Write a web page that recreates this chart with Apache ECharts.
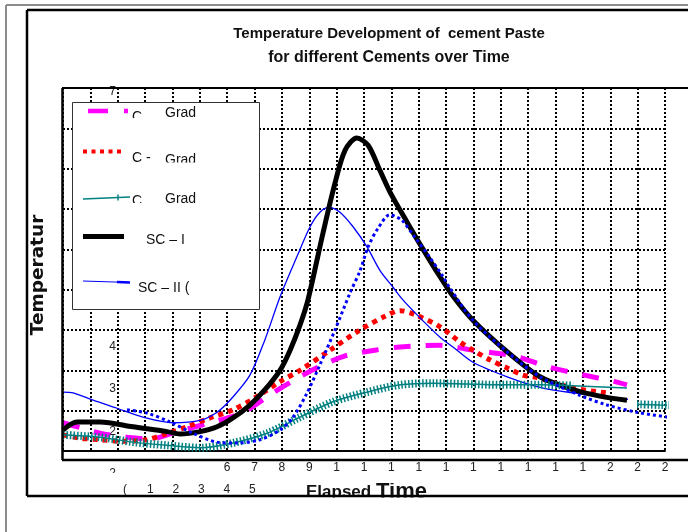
<!DOCTYPE html>
<html>
<head>
<meta charset="utf-8">
<title>Temperature Development of cement Paste</title>
<script src="https://cdn.jsdelivr.net/npm/echarts@6/dist/echarts.min.js"></script>
<style>
  html, body { margin: 0; padding: 0; background: #fff; }
  #chart { width: 688px; height: 532px; }
</style>
</head>
<body>
<div id="chart"></div>
<script>
// elapsed time (one unit per grid column) and temperature
const magentaTime = [0, 0.62, 1.35, 2.34, 3.18, 4.17, 5.37, 6.58, 7.67, 8.66, 9.39, 10.31, 11.40, 12.32, 13.78, 14.98, 16.59, 17.65, 18.93, 20.17, 20.61];
const magentaTemp = [28.5, 27.9, 27.2, 26.7, 26.5, 27.4, 28.5, 29.8, 32.2, 34.2, 35.5, 36.8, 37.5, 37.9, 38.1, 37.5, 36.7, 35.5, 34.5, 33.6, 33.2];

const redTime = [0, 0.62, 1.35, 2.19, 3.07, 3.73, 4.53, 5.37, 6.21, 7.02, 7.93, 8.66, 9.76, 10.85, 11.77, 12.32, 12.86, 13.78, 14.51, 14.98, 15.60, 16.23, 16.81, 17.32, 18.64, 19.88];
const redTemp = [27.0, 26.6, 26.4, 26.2, 26.4, 27.1, 28.0, 29.1, 30.1, 31.6, 33.6, 35.0, 37.5, 40.0, 41.7, 42.4, 41.9, 40.4, 38.5, 37.5, 36.3, 35.3, 34.4, 34.1, 32.8, 32.2];

const tealTime = [0, 1.35, 2.56, 3.80, 5.01, 6.21, 7.46, 8.66, 9.87, 11.11, 12.32, 13.52, 14.76, 15.97, 17.43, 18.64, 20.61, 20.80, 20.98, 21.82, 22.84];
const tealTemp = [27.0, 26.7, 26.1, 25.7, 25.4, 26.0, 27.2, 29.2, 31.1, 32.3, 33.2, 33.4, 33.3, 33.2, 33.2, 33.1, 32.8, null, 30.8, 30.7, 30.6];

const blackTime = [0, 0.51, 1.35, 2.56, 3.80, 4.28, 5.01, 5.63, 6.21, 6.83, 7.38, 7.93, 8.30, 8.66, 8.95, 9.50, 9.94, 10.31, 10.74, 11.15, 11.58, 11.95, 12.57, 13.16, 13.78, 14.25, 14.98, 16.23, 17.43, 18.64, 19.62, 20.61];
const blackTemp = [27.6, 28.6, 28.6, 28.0, 27.4, 27.1, 27.4, 28.0, 29.1, 30.7, 32.6, 35.0, 37.5, 40.6, 43.7, 52.0, 58.2, 62.3, 63.8, 62.9, 59.8, 57.1, 53.4, 50.0, 46.6, 44.2, 41.2, 37.3, 34.2, 32.6, 31.8, 31.3];

const blueTime = [0, 0.37, 1.10, 1.97, 2.92, 4.02, 5.01, 5.63, 6.21, 6.83, 7.38, 7.93, 8.55, 9.03, 9.39, 9.72, 10.12, 10.60, 11.11, 11.58, 12.06, 12.43, 13.05, 13.78, 14.25, 14.98, 16.23, 17.43, 18.64, 19.88, 20.65];
const blueTemp = [32.3, 32.2, 31.3, 30.3, 29.2, 28.5, 28.8, 29.8, 31.7, 34.4, 38.8, 44.1, 49.1, 52.8, 54.6, 55.2, 54.6, 52.8, 50.3, 47.4, 45.3, 43.7, 41.5, 39.1, 37.9, 36.0, 34.2, 32.9, 32.2, 31.7, 31.4];

const blueDotTime = [2.34, 3.07, 3.91, 4.75, 5.63, 6.36, 7.20, 7.93, 8.41, 8.92, 9.39, 9.94, 10.49, 10.85, 11.15, 11.51, 11.95, 12.13, 12.39, 12.86, 13.34, 13.89, 14.14, 14.98, 16.23, 17.43, 18.89, 19.88, 20.98, 22.29, 22.84];
const blueDotTemp = [30.1, 29.7, 28.6, 27.2, 26.1, 26.0, 26.4, 27.6, 29.2, 32.2, 35.7, 40.0, 44.6, 47.3, 50.3, 52.6, 54.3, 54.1, 53.6, 51.5, 49.3, 46.6, 45.2, 41.2, 37.3, 34.2, 31.9, 30.7, 29.8, 29.1, 28.8];

// tick labels as they show in the picture (cut off)
const xLabelsUpper = ['', '', '', '', '', '', '6', '7', '8', '9', '1', '1', '1', '1', '1', '1', '1', '1', '1', '1', '2', '2', '2'];
const xLabelsLower = ['(', '1', '2', '3', '4', '5'];
const yLabels = ['2', '2', '3', '4', '4', '5', '5', '6', '6', '7']; // 25 .. 70

const legendNames = [['C', 'Grad'], ['C -', 'Grad'], ['C', 'Grad'], ['SC – I'], ['SC – II (']];

function pairs(xs, ys) {
  return xs.map((x, i) => [x, ys[i]]);
}

const tealData = pairs(tealTime, tealTemp);
// the "+" marks are missing between about 18.7 and 20.9
const tealTicks = tealData.map(p => (p[0] > 18.7 && p[0] < 20.9) ? [p[0], null] : p);

const chart = echarts.init(document.getElementById('chart'));

const font = '"Liberation Sans", Arial, sans-serif';
const dotted = {color: '#000', width: 2, type: [2, 2]};

function lineEl(x1, y1, x2, y2, stroke, w, z, dash) {
  return {type: 'line', z: z, silent: true, shape: {x1, y1, x2, y2},
    style: {stroke: stroke, lineWidth: w, lineDash: dash || null}};
}
function textEl(x, y, text, size, weight, z, align, extra) {
  return Object.assign({type: 'text', x: x, y: y, z: z, silent: true,
    style: {text: text, fontSize: size, fontWeight: weight, fontFamily: font, fill: '#111',
      align: align || 'left', textAlign: align || 'left', verticalAlign: 'top', textVerticalAlign: 'top'}}, extra || {});
}
function whiteRect(x, y, w, h, z) {
  return {type: 'rect', z: z, silent: true, shape: {x, y, width: w, height: h}, style: {fill: '#fff'}};
}

const graphics = [
  // outer frames
  lineEl(6, 5, 6, 532, '#8c8c8c', 2, 100),
  lineEl(6, 5, 688, 5, '#8c8c8c', 2, 100),
  lineEl(27, 10, 27, 496, '#000', 2.5, 100),
  lineEl(27, 10, 688, 10, '#000', 2.5, 100),
  // plot area border
  lineEl(62.5, 88, 62.5, 460, '#000', 2.5, 100),
  lineEl(62, 88, 688, 88, '#000', 2, 100),
  lineEl(62, 460, 688, 460, '#000', 2.5, 100),
  // titles
  textEl(389, 26, 'Temperature Development of  cement Paste', 15, 'bold', 50, 'center'),
  textEl(389, 50, 'for different Cements over Time', 16, 'bold', 50, 'center'),
  textEl(38, 275, 'Temperatur', 18, 'bold', 50, 'center',
    {rotation: Math.PI / 2, style: {text: 'Temperatur', fontSize: 18.5, fontWeight: 'bold', fontFamily: '"DejaVu Sans", sans-serif',
      fill: '#111', align: 'center', textAlign: 'center', verticalAlign: 'middle', textVerticalAlign: 'middle'}}),
  textEl(306, 484, 'Elapsed', 17, 'bold', 50),
  textEl(376, 480.5, 'Time', 22, 'bold', 50),
  // cut-off bands
  whiteRect(95, 473, 593, 10, 60),
  whiteRect(28, 497.5, 660, 35, 60),
  lineEl(27, 496, 688, 496, '#000', 2.5, 100),
  // legend box
  {type: 'rect', z: 70, silent: true, shape: {x: 72.5, y: 102.5, width: 187, height: 207},
    style: {fill: '#fff', stroke: '#333', lineWidth: 1}},
  lineEl(88, 111, 128, 111, '#ff00ff', 4.5, 71, [20, 16]),
  lineEl(83, 151.5, 121, 151.5, '#ff0000', 4, 71, [4, 4.5]),
  lineEl(83, 199, 130, 197, '#008080', 1.5, 71),
  lineEl(118, 194.5, 118, 200.5, '#008080', 1.5, 71),
  lineEl(83, 236.5, 124, 236.5, '#000', 5, 71),
  lineEl(83, 281, 130, 282.5, '#0000ff', 1.2, 71),
  lineEl(117, 282, 130, 282.5, '#0000ff', 2.5, 71),
  textEl(132, 110, legendNames[0][0], 14, 'normal', 71),
  textEl(165, 106, legendNames[0][1], 14, 'normal', 71),
  textEl(132, 151, legendNames[1][0], 14, 'normal', 71),
  textEl(165, 153, legendNames[1][1], 14, 'normal', 71),
  textEl(132, 194, legendNames[2][0], 14, 'normal', 71),
  textEl(165, 192, legendNames[2][1], 14, 'normal', 71),
  textEl(146, 233, legendNames[3][0], 14, 'normal', 71),
  textEl(138, 281, legendNames[4][0], 14, 'normal', 71),
  whiteRect(131, 118, 127, 8, 72),
  whiteRect(131, 162.5, 127, 8, 72),
  whiteRect(131, 203, 127, 8, 72),
  whiteRect(131, 245, 127, 8, 72)
];

const option = {
  animation: false,
  backgroundColor: '#fff',
  grid: [
    {left: 63, right: 23, top: 88, bottom: 81},
    {left: 125, width: 602, top: 92, height: 382}
  ],
  xAxis: [
    {
      type: 'value', gridIndex: 0, min: 0, max: 22, interval: 1,
      axisLine: {show: true, lineStyle: {color: '#000', width: 2}},
      axisTick: {show: false},
      splitLine: {show: true, lineStyle: dotted},
      axisLabel: {
        margin: 11, fontSize: 12, color: '#222', fontFamily: font,
        showMinLabel: true, showMaxLabel: true,
        formatter: v => xLabelsUpper[Math.round(v)] || ''
      }
    },
    {
      type: 'value', gridIndex: 1, min: 0, max: 22, interval: 1,
      axisLine: {show: false}, axisTick: {show: false}, splitLine: {show: false},
      axisLabel: {
        margin: 10, fontSize: 12, color: '#222', fontFamily: font,
        showMinLabel: true, showMaxLabel: true,
        formatter: v => xLabelsLower[Math.round(v)] || ''
      }
    }
  ],
  yAxis: [
    {
      type: 'value', gridIndex: 0, min: 25, max: 70, interval: 5,
      axisLine: {show: false}, axisTick: {show: false}, axisLabel: {show: false},
      splitLine: {show: true, lineStyle: dotted}
    },
    {
      type: 'value', gridIndex: 1, min: 25, max: 70, interval: 5,
      axisLine: {show: false}, axisTick: {show: false}, splitLine: {show: false},
      axisLabel: {
        margin: 9, fontSize: 12, color: '#222', fontFamily: font,
        showMinLabel: true, showMaxLabel: true,
        formatter: v => yLabels[Math.round((v - 25) / 5)] || ''
      }
    }
  ],
  series: [
    {
      name: 'C Grad 1', type: 'line', smooth: 0.3, showSymbol: false, clip: false,
      data: pairs(magentaTime, magentaTemp),
      lineStyle: {color: '#ff00ff', width: 5, type: [17, 15]}
    },
    {
      name: 'C - Grad 2', type: 'line', smooth: 0.3, showSymbol: false, clip: false,
      data: pairs(redTime, redTemp),
      lineStyle: {color: '#ff0000', width: 5, type: [5, 5]}
    },
    {
      name: 'SC – II (', type: 'line', smooth: 0.3, showSymbol: false, clip: false,
      data: pairs(blueTime, blueTemp),
      lineStyle: {color: '#0000ff', width: 1.3}
    },
    {
      name: 'SC – I', type: 'line', smooth: 0.3, showSymbol: false, clip: false,
      data: pairs(blackTime, blackTemp),
      lineStyle: {color: '#000', width: 5}
    },
    {
      name: 'C Grad 3', type: 'line', smooth: 0.3, showSymbol: false, clip: false,
      data: tealData,
      lineStyle: {color: '#008080', width: 1.5}
    },
    {
      name: 'C Grad 3 marks', type: 'line', smooth: 0.3, showSymbol: false, clip: false,
      data: tealTicks,
      lineStyle: {color: '#008080', width: 8, type: [1.5, 2]}
    },
    {
      name: 'SC – II dotted', type: 'line', smooth: 0.3, showSymbol: false, clip: false,
      data: pairs(blueDotTime, blueDotTemp),
      lineStyle: {color: '#0000ff', width: 3, type: [3, 3]}
    }
  ],
  graphic: {elements: graphics}
};

chart.setOption(option);
</script>
</body>
</html>
